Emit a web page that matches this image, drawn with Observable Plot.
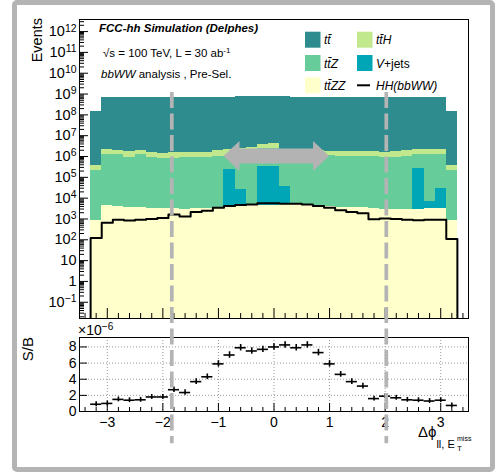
<!DOCTYPE html>
<html><head><meta charset="utf-8">
<script src="https://cdn.jsdelivr.net/npm/d3@7"></script>
<script src="https://cdn.jsdelivr.net/npm/@observablehq/plot@0.6"></script>
<style>
body{margin:0;background:#fff;}
#wrap{position:relative;width:500px;height:473px;overflow:hidden;font-family:"Liberation Sans",Arial,Helvetica,sans-serif;background:#fff;}
#border{position:absolute;left:12px;top:0;width:473px;height:462px;border:5px solid #b4b4b4;border-radius:5px;}
#wrap svg{position:absolute;left:0;}
</style></head><body><div id="wrap"><div id="border"></div></div>
<script>
// ---------------- data ----------------
const binLow = [-3.3,-3.1,-2.9,-2.7,-2.5,-2.3,-2.1,-1.9,-1.7,-1.5,-1.3,-1.1,-0.9,-0.7,-0.5,-0.3,-0.1,0.1,0.3,0.5,0.7,0.9,1.1,1.3,1.5,1.7,1.9,2.1,2.3,2.5,2.7,2.9,3.1];
const binWidth = 0.2;
const ttbar = [1.47e8,6.59e8,6.59e8,6.59e8,6.59e8,6.59e8,6.59e8,6.74e8,6.74e8,6.74e8,6.90e8,7.06e8,7.06e8,7.22e8,7.56e8,7.90e8,7.90e8,7.22e8,7.06e8,7.06e8,7.06e8,7.06e8,6.90e8,6.90e8,6.90e8,6.90e8,6.90e8,6.90e8,6.90e8,6.90e8,7.06e8,7.06e8,1.44e8];
const ttH = [1.36e5,7.7e5,7.0e5,8.0e5,7.9e5,6.8e5,6.1e5,6.5e5,6.6e5,6.8e5,7.1e5,1.04e6,1.09e6,1.17e6,1.14e6,1.47e6,1.69e6,8.3e5,7.8e5,7.5e5,7.7e5,7.1e5,6.9e5,6.75e5,6.6e5,7.05e5,6.9e5,7.65e5,8.15e5,9.7e5,9.7e5,9.7e5,1.61e5];
const ttZ = [2.18e5,1.31e6,1.20e6,9.3e5,1.20e6,8.7e5,8.3e5,8.3e5,8.5e5,8.7e5,9.1e5,9.5e5,8.0e5,1.10e6,1.54e6,2.2e6,2.0e6,1.22e6,1.12e6,1.07e6,1.09e6,1.07e6,1.04e6,1.02e6,1.0e6,9.5e5,9.3e5,9.3e5,1.04e6,1.05e6,1.31e6,1.29e6,2.18e5];
const vjets = [0,0,0,0,0,0,0,0,0,0,0,0,2.4e5,2.2e4,1.0e3,3.1e5,3.1e5,3.0e4,0,0,0,0,0,0,0,0,0,0,0,2.6e5,4.1e3,2.55e4,0];
const ttZZ = [830,4200,4000,3700,3550,3300,3150,3100,3000,3100,3150,3400,3700,4000,4200,4350,4550,4700,4700,4550,4250,4000,3700,3550,3400,3150,3000,2950,2950,3000,3150,3300,830];
const hhSignal = [123,650,910,850,910,1000,1100,1660,1320,2140,2450,3470,4170,4680,5010,5620,5620,5370,5370,5010,4170,3470,2630,2190,1860,980,1050,1000,910,870,910,910,110];
const sbValues = [0.9,1.0,1.5,1.4,1.45,1.8,1.8,2.7,2.35,3.7,4.3,5.9,7.0,7.9,7.5,7.7,8.0,8.25,7.9,8.25,7.3,5.9,4.6,3.7,3.15,1.6,1.9,1.7,1.45,1.4,1.3,1.4,0.75]; // x 1e-6
const sbErrors = [0.3,0.3,0.3,0.3,0.3,0.3,0.3,0.35,0.35,0.35,0.35,0.4,0.4,0.4,0.4,0.4,0.4,0.4,0.4,0.4,0.4,0.4,0.35,0.35,0.35,0.3,0.3,0.3,0.3,0.3,0.3,0.3,0.3];
const cutLines = [-1.83, 2.03];
const arrowRange = [-0.9, 1.0];
const arrowLevel = 1e6;
const cutTop = 1.2e9;
const yMajorTicks = [1e-1,1,10,1e2,1e3,1e4,1e5,1e6,1e7,1e8,1e9,1e10,1e11,1e12];
const yTickLabels = ["10^-1","1","10","10^2","10^3","10^4","10^5","10^6","10^7","10^8","10^9","10^10","10^11","10^12"];
const xTickValues = [-3,-2,-1,0,1,2,3];
const sbTickValues = [0,2,4,6,8];
const legendLabels = ["tt\u0304","tt\u0304H","tt\u0304Z","V","tt\u0304ZZ","HH(bbWW)"];

const colors = {ttbar:"#2e8c8f", ttH:"#c2e88e", ttZ:"#66cc99", vjets:"#00a6b6", ttZZ:"#ffffcc"};
const FONT = '"Liberation Sans", Arial, Helvetica, sans-serif';
const yMin = Math.pow(10,-1.78), yMax = Math.pow(10,12.58);

// ---------------- stack (bottom -> top) ----------------
const stackOrder = [
  {values: ttZZ, color: colors.ttZZ},
  {values: vjets, color: colors.vjets},
  {values: ttZ, color: colors.ttZ},
  {values: ttH, color: colors.ttH},
  {values: ttbar, color: colors.ttbar}
];
const stackRects = stackOrder.map(() => []);
binLow.forEach((lo, i) => {
  let cum = 0;
  stackOrder.forEach((s, k) => {
    const v = s.values[i];
    if (v <= 0) return;
    const y1 = cum > 0 ? cum : yMin;
    cum += v;
    stackRects[k].push({x1: lo, x2: lo + binWidth, y1, y2: cum});
  });
});
const hhPts = [{x: binLow[0], y: yMin}];
binLow.forEach((lo, i) => { hhPts.push({x: lo, y: hhSignal[i]}); hhPts.push({x: lo + binWidth, y: hhSignal[i]}); });
hhPts.push({x: binLow[binLow.length-1] + binWidth, y: yMin});

const sbData = binLow.map((lo, i) => ({lo, hi: lo + binWidth, c: lo + binWidth/2, v: sbValues[i], e: sbErrors[i]}));

// tick generation
const yMinorTicks = [];
for (let p = -2; p <= 12; p++) for (let k = 2; k <= 9; k++) { const v = k*Math.pow(10,p); if (v > yMin && v < yMax) yMinorTicks.push(v); }
const xMinorTicks = d3.range(-17, 18).map(k => +(k*0.2).toFixed(1)).filter(v => Math.abs(v - Math.round(v)) > 1e-6);

const W = 500;
const UP = {h: 319, mt: 19, mb: 1, ml: 79, mr: 32};
const LO = {top: 319, h: 154, mt: 18, mb: 62, ml: 79, mr: 32};
const fw = W - UP.ml - UP.mr;
const fhU = UP.h - UP.mt - UP.mb;
const fhL = LO.h - LO.mt - LO.mb;

function fatArrow(index, scales) {
  const xa = scales.x(arrowRange[0]), xb = scales.x(arrowRange[1]), yc = scales.y(arrowLevel);
  const hl = 16, hh = 15, sh = 7.5;
  const d = `M${xa},${yc}L${xa+hl},${yc-hh}L${xa+hl},${yc-sh}L${xb-hl},${yc-sh}L${xb-hl},${yc-hh}L${xb},${yc}L${xb-hl},${yc+hh}L${xb-hl},${yc+sh}L${xa+hl},${yc+sh}L${xa+hl},${yc+hh}Z`;
  const p = document.createElementNS("http://www.w3.org/2000/svg", "path");
  p.setAttribute("d", d); p.setAttribute("fill", "#b3b3b3");
  return p;
}

const upper = Plot.plot({
  width: W, height: UP.h, marginLeft: UP.ml, marginRight: UP.mr, marginTop: UP.mt, marginBottom: UP.mb,
  x: {domain: [-3.5, 3.5], axis: null},
  y: {type: "log", domain: [yMin, yMax], axis: null},
  style: {fontFamily: FONT, background: "transparent", overflow: "visible", color: "black"},
  marks: [
    ...stackOrder.map((s, k) => Plot.rect(stackRects[k], {x1: "x1", x2: "x2", y1: "y1", y2: "y2", fill: s.color, shapeRendering: "crispEdges", clip: true})),
    Plot.line(hhPts, {x: "x", y: "y", stroke: "black", strokeWidth: 2, clip: true}),
    fatArrow,
    Plot.tickY(yMinorTicks, {y: d => d, insetRight: fw - 5, stroke: "black"}),
    Plot.tickY(yMajorTicks, {y: d => d, insetRight: fw - 9, stroke: "black"}),
    Plot.tickX(xMinorTicks, {x: d => d, insetTop: fhU - 5, stroke: "black"}),
    Plot.tickX(xTickValues, {x: d => d, insetTop: fhU - 10, stroke: "black"}),
    Plot.frame({stroke: "black"}),
    Plot.text(yMajorTicks, {x: -3.5, y: d => d, text: (d, i) => yTickLabels[i], textAnchor: "end", dx: -3, fontSize: 14.5, fill: "black"})
  ]
});
upper.style.top = "0px";
d3.select(upper).selectAll("text").each(function() {
  const s = this.textContent; const m = s.match(/^10\^(.+)$/);
  if (m) {
    while (this.firstChild) this.removeChild(this.firstChild);
    const t = d3.select(this);
    t.append("tspan").text("10");
    t.append("tspan").attr("dy", "-0.45em").attr("font-size", "0.72em").text(m[1].replace("-", "\u2212"));
  }
});

const lower = Plot.plot({
  width: W, height: LO.h, marginLeft: LO.ml, marginRight: LO.mr, marginTop: LO.mt, marginBottom: LO.mb,
  x: {domain: [-3.5, 3.5], axis: null},
  y: {domain: [0, 9.17], axis: null},
  style: {fontFamily: FONT, background: "transparent", overflow: "visible", color: "black"},
  marks: [
    Plot.ruleX(xTickValues, {x: d => d, stroke: "#999", strokeDasharray: "1,2"}),
    Plot.ruleY(sbTickValues.filter(v => v > 0), {y: d => d, stroke: "#999", strokeDasharray: "1,2"}),
    Plot.tickX(xMinorTicks, {x: d => d, insetTop: fhL - 4, stroke: "black"}),
    Plot.tickX(xTickValues, {x: d => d, insetTop: fhL - 8, stroke: "black"}),
    Plot.tickY(sbTickValues, {y: d => d, insetRight: fw - 8, stroke: "black"}),
    Plot.ruleY(sbData, {y: "v", x1: "lo", x2: "hi", stroke: "black", strokeWidth: 1.6}),
    Plot.ruleX(sbData, {x: "c", y1: d => d.v - d.e, y2: d => d.v + d.e, stroke: "black", strokeWidth: 1.6}),
    Plot.frame({stroke: "black"}),
    Plot.text(sbTickValues, {x: -3.5, y: d => d, text: d => String(d), textAnchor: "end", dx: -3, fontSize: 14, fill: "black"}),
    Plot.text(xTickValues, {x: d => d, y: 0, text: d => d < 0 ? "\u2212" + (-d) : String(d), dy: 11, fontSize: 14, fill: "black"})
  ]
});
lower.style.top = LO.top + "px";

const wrap = document.getElementById("wrap");
wrap.appendChild(upper);
wrap.appendChild(lower);

function scaleFn(plot, name) {
  const s = plot.scale(name);
  if (s && typeof s.apply === "function") return v => s.apply(v);
  const base = s.type === "log" ? d3.scaleLog() : d3.scaleLinear();
  return base.domain(s.domain).range(s.range);
}
const ux = scaleFn(upper, "x"), uy = scaleFn(upper, "y"), ly = scaleFn(lower, "y");

// ---------------- overlay: cut lines & text ----------------
const ov = d3.create("svg").attr("width", W).attr("height", 473).attr("font-family", FONT)
  .style("top", "0px").style("pointer-events", "none");
const yTopCut = uy(cutTop), yBotCut = LO.top + ly(-4);
cutLines.forEach(c => {
  ov.append("line").attr("x1", ux(c)).attr("x2", ux(c)).attr("y1", yTopCut).attr("y2", yBotCut)
    .attr("stroke", "#b4b4b4").attr("stroke-width", 3.7).attr("stroke-dasharray", "16,5.5");
});

ov.append("text").attr("x", 99).attr("y", 32.3).attr("font-size", 11.5).attr("font-weight", "bold").attr("font-style", "italic").text("FCC-hh Simulation (Delphes)");
const t2 = ov.append("text").attr("x", 103).attr("y", 56.5).attr("font-size", 11.5);
t2.append("tspan").text("\u221As = 100 TeV, L = 30 ab");
t2.append("tspan").attr("dy", "-0.45em").attr("font-size", "0.7em").text("-1");
const t3 = ov.append("text").attr("x", 101).attr("y", 77.5).attr("font-size", 11.5);
t3.append("tspan").attr("font-style", "italic").text("bbWW");
t3.append("tspan").text(" analysis , Pre-Sel.");

// legend
const legItems = [
  {col: 0, row: 0, color: colors.ttbar, label: legendLabels[0]},
  {col: 1, row: 0, color: colors.ttH, label: legendLabels[1]},
  {col: 0, row: 1, color: colors.ttZ, label: legendLabels[2]},
  {col: 1, row: 1, color: colors.vjets, label: legendLabels[3], extra: "+jets"},
  {col: 0, row: 2, color: colors.ttZZ, label: legendLabels[4]},
  {col: 1, row: 2, line: true, label: legendLabels[5]}
];
const colX = [305, 357], rowY = [31.7, 55, 77.3];
legItems.forEach(it => {
  const x = colX[it.col], y = rowY[it.row];
  if (it.line) ov.append("line").attr("x1", x).attr("x2", x + 13).attr("y1", y + 8).attr("y2", y + 8).attr("stroke", "black").attr("stroke-width", 2);
  else ov.append("rect").attr("x", x).attr("y", y).attr("width", 15.5).attr("height", 16).attr("fill", it.color);
  const t = ov.append("text").attr("x", x + 19).attr("y", y + 12.5).attr("font-size", 12);
  t.append("tspan").attr("font-style", "italic").text(it.label);
  if (it.extra) t.append("tspan").text(it.extra);
});

// axis titles
ov.append("text").attr("transform", "translate(42,18) rotate(-90)").attr("text-anchor", "end").attr("font-size", 14.5).text("Events");
ov.append("text").attr("transform", "translate(33,337) rotate(-90)").attr("text-anchor", "end").attr("font-size", 15).text("S/B");
const m6 = ov.append("text").attr("x", 78).attr("y", 335).attr("font-size", 14);
m6.append("tspan").text("\u00D710");
m6.append("tspan").attr("dy", "-0.5em").attr("font-size", "0.72em").text("\u22126");
const xt = ov.append("text").attr("x", 418).attr("y", 436.7).attr("font-size", 15);
xt.append("tspan").text("\u0394\u03D5");
xt.append("tspan").attr("dy", 11).attr("font-size", 11).text("ll, E");
ov.append("text").attr("x", 457).attr("y", 451).attr("font-size", 8).text("T");
ov.append("text").attr("x", 457).attr("y", 441).attr("font-size", 7).text("miss");

wrap.appendChild(ov.node());
</script></body></html>
